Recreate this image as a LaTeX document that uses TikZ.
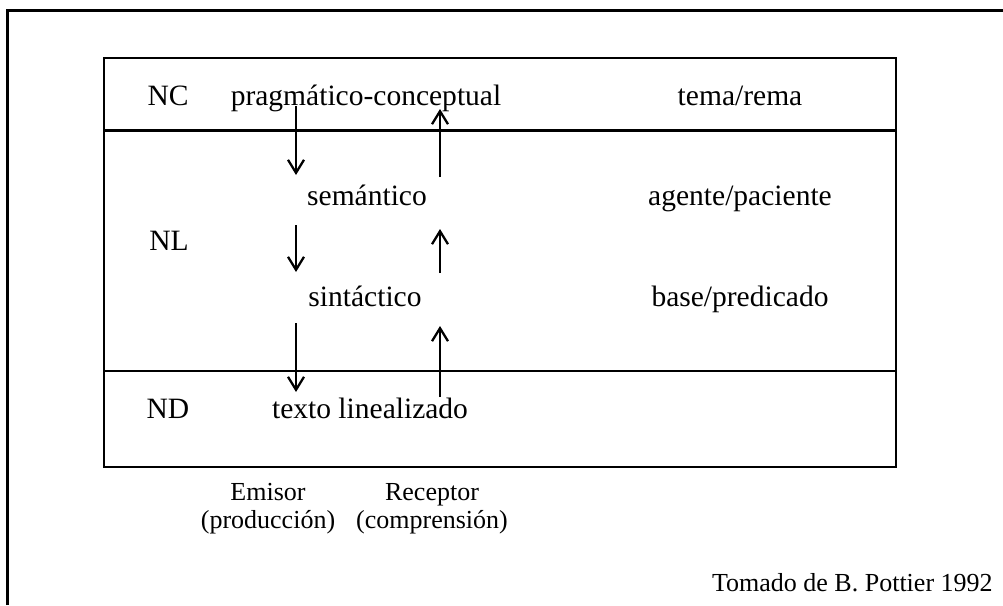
\documentclass[tikz,border=0pt]{standalone}
\usepackage{fontspec}
\setmainfont{Liberation Serif}
\usetikzlibrary{arrows.meta}
\begin{document}
\begin{tikzpicture}[x=0.02cm, y=-0.02cm,
  lbl/.style={font=\fontsize{16.8}{20}\selectfont, inner sep=0pt, anchor=base},
  small/.style={font=\fontsize{14.8}{16}\selectfont, inner sep=0pt, anchor=base},
  arr/.style={line width=1.3pt, -{Straight Barb[length=2.6mm,width=3.2mm]}}]
\useasboundingbox (0,0) rectangle (1003,605);
% outer frame
\draw[line width=1.4pt] (7.5,605) -- (7.5,10.5) -- (1003,10.5);
% levels
\draw[line width=1.3pt] (104,58) rectangle (896,467);
\draw[line width=1.3pt] (104,130.5) -- (896,130.5);
\draw[line width=1.3pt] (104,371) -- (896,371);
\node[lbl] (nc) at (168,105) {NC};
\node[lbl] (prag) at (366,105) {pragmático-conceptual};
\node[lbl] (tema) at (740,105) {tema/rema};
\node[lbl] (sem) at (367,205) {semántico};
\node[lbl] (agente) at (740,205) {agente/paciente};
\node[lbl] (nl) at (169,250) {NL};
\node[lbl] (sint) at (365,306) {sintáctico};
\node[lbl] (base) at (740,306) {base/predicado};
\node[lbl] (nd) at (168,418) {ND};
\node[lbl] (texto) at (370,418) {texto linealizado};
\node[small] (emisor) at (268,500) {Emisor};
\node[small] (prod) at (268,528) {(producción)};
\node[small] (receptor) at (432,500) {Receptor};
\node[small] (compr) at (432,528) {(comprensión)};
\node[small, anchor=base east] (fuente) at (993,591) {Tomado de B. Pottier 1992};
% arrows
\foreach \n/\ya/\yb in {1/106/175, 2/225/272, 3/323/392}
  {\coordinate (d\n a) at (296,\ya);
   \coordinate (d\n b) at (296,\yb);
   \draw[arr] (d\n a) -- (d\n b);};
\foreach \n/\ya/\yb in {1/177/109, 2/273/229, 3/397/326}
  {\coordinate (u\n a) at (440,\ya);
   \coordinate (u\n b) at (440,\yb);
   \draw[arr] (u\n a) -- (u\n b);};
\end{tikzpicture}
\end{document}
